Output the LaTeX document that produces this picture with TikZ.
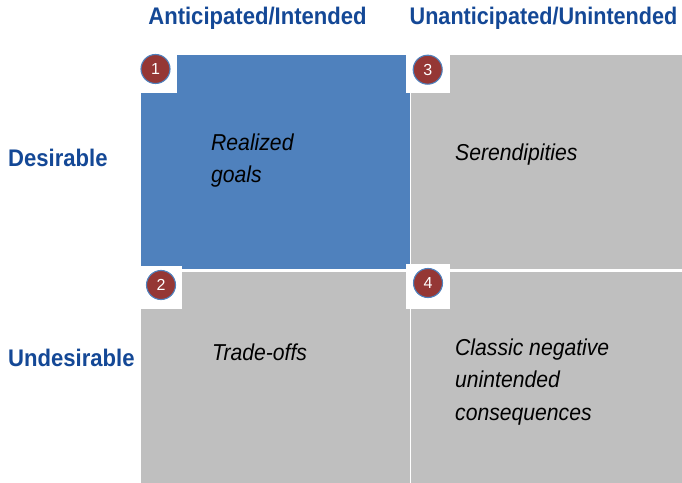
\documentclass[tikz,border=0pt]{standalone}
\usepackage{fontspec}
\setmainfont{Liberation Sans}
\newfontfamily\lblfont[FakeStretch=0.92]{Liberation Sans}
\newfontfamily\lblfontn[FakeStretch=0.90]{Liberation Sans}
\definecolor{hdblue}{RGB}{20,72,150}
\definecolor{qblue}{RGB}{79,129,189}
\definecolor{qgrey}{RGB}{191,191,191}
\definecolor{cred}{RGB}{149,55,53}
\tikzset{
  hd/.style={font=\lblfont\bfseries\fontsize{24bp}{28bp}\selectfont, text=hdblue, inner sep=0pt},
  hdn/.style={font=\lblfontn\bfseries\fontsize{24bp}{28bp}\selectfont, text=hdblue, inner sep=0pt},
  it/.style={font=\lblfont\itshape\fontsize{23bp}{32.5bp}\selectfont, text=black, inner sep=0pt, align=left, anchor=base west},
  num/.style={circle, fill=cred, draw=qblue, line width=1.1bp, minimum size=29bp, inner sep=0pt,
    text=white, font=\fontsize{16bp}{18bp}\selectfont},
  wsq/.style={fill=white}
}
\begin{document}
\begin{tikzpicture}[x=1bp,y=-1bp]
\useasboundingbox (0,0) rectangle (682,483);
\fill[white] (0,0) rectangle (682,483);
% quadrants
\fill[qblue] (141,55) rectangle (410,268.5);
\fill[qgrey] (411,55) rectangle (682,268.5);
\fill[qgrey] (141,272) rectangle (410,483);
\fill[qgrey] (411,272) rectangle (682,483);
% white corner squares
\fill[wsq] (141,55) rectangle (177,93);
\fill[wsq] (406,55) rectangle (449.5,93.3);
\fill[wsq] (141,266) rectangle (181.7,309);
\fill[wsq] (406,264) rectangle (450,309);
% numbered circles
\node[num] (n1) at (155.5,69) {1};
\node[num] (n3) at (427.7,69.7) {3};
\node[num] (n2) at (161,285) {2};
\node[num] (n4) at (428,283) {4};
% headings
\node[hd, anchor=base] (h1) at (257.5,25) {Anticipated/Intended};
\node[hdn, anchor=base] (h2) at (543.5,25) {Unanticipated/Unintended};
\node[hd, anchor=base west] (r1) at (8,166.5) {Desirable};
\node[hd, anchor=base west] (r2) at (8,366) {Undesirable};
% cell texts (anchored at the baseline of the last line)
\node[it] (t1) at (211,183) {Realized\\goals};
\node[it] (t3) at (455,161) {Serendipities};
\node[it] (t2) at (212,360) {Trade-offs};
\node[it] (t4) at (455,420) {Classic negative\\unintended\\consequences};
\end{tikzpicture}
\end{document}
